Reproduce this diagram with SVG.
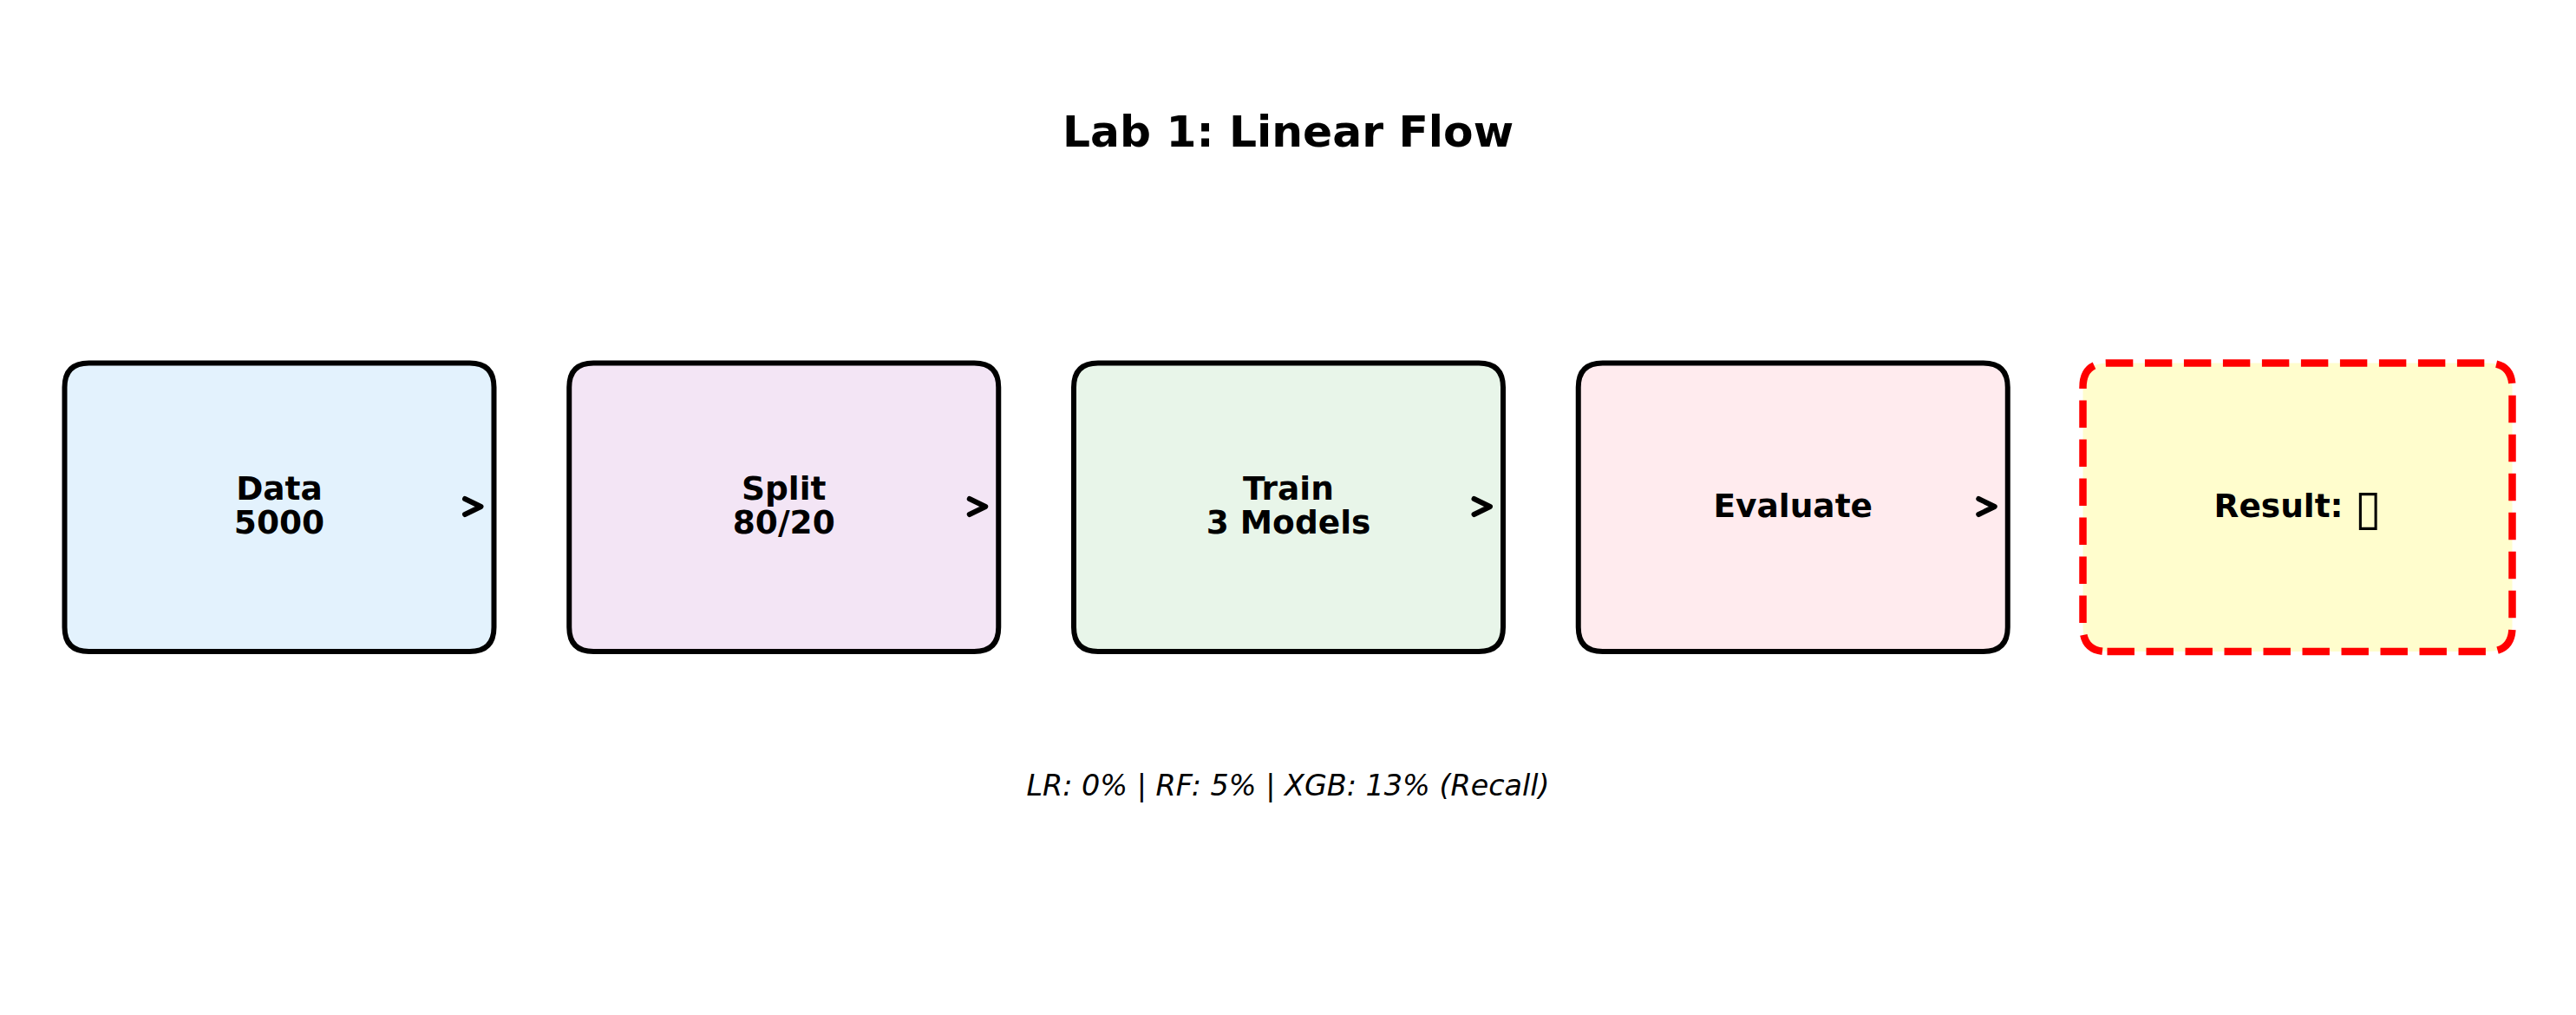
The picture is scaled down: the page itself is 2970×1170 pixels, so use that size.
<svg xmlns="http://www.w3.org/2000/svg" width="2970" height="1170" viewBox="0 0 2970 1170">
<style>
.box{stroke:#000;stroke-width:6;stroke-linejoin:round}
.res{fill:#FFFDCD;stroke:#FF0000;stroke-width:8.5;stroke-dasharray:31.4 13.6;stroke-linejoin:round}
.lbl{font-family:"DejaVu Sans",sans-serif;font-weight:bold;font-size:37.5px;fill:#000;text-anchor:middle}
.title{font-family:"DejaVu Sans",sans-serif;font-weight:bold;font-size:50.3px;fill:#000;text-anchor:middle}
.note{font-family:"DejaVu Sans",sans-serif;font-style:italic;font-size:33.4px;fill:#000;text-anchor:middle}
.chev{fill:none;stroke:#000;stroke-width:6;stroke-linecap:round;stroke-linejoin:round}
.tofu{font-weight:normal;font-size:56px}
</style>
<rect width="2970" height="1170" fill="#fff"/>
<text class="title" x="1485" y="169">Lab 1: Linear Flow</text>
<g id="node-data">
<path class="box" fill="#E3F2FD" d="M102.5 751 L541.5 751 Q569.5 751 569.5 723 L569.5 446.5 Q569.5 418.5 541.5 418.5 L102.5 418.5 Q74.5 418.5 74.5 446.5 L74.5 723 Q74.5 751 102.5 751Z"/>
<text class="lbl" x="322" y="575.5">Data</text>
<text class="lbl" x="322" y="615">5000</text>
</g>
<g id="node-split">
<path class="box" fill="#F3E5F5" d="M684.25 751 L1123.25 751 Q1151.25 751 1151.25 723 L1151.25 446.5 Q1151.25 418.5 1123.25 418.5 L684.25 418.5 Q656.25 418.5 656.25 446.5 L656.25 723 Q656.25 751 684.25 751Z"/>
<text class="lbl" x="903.75" y="575.5">Split</text>
<text class="lbl" x="903.75" y="615">80/20</text>
</g>
<g id="node-train">
<path class="box" fill="#E8F5E9" d="M1266 751 L1705 751 Q1733 751 1733 723 L1733 446.5 Q1733 418.5 1705 418.5 L1266 418.5 Q1238 418.5 1238 446.5 L1238 723 Q1238 751 1266 751Z"/>
<text class="lbl" x="1485.5" y="575.5">Train</text>
<text class="lbl" x="1485.5" y="615">3 Models</text>
</g>
<g id="node-evaluate">
<path class="box" fill="#FFEBEE" d="M1847.75 751 L2286.75 751 Q2314.75 751 2314.75 723 L2314.75 446.5 Q2314.75 418.5 2286.75 418.5 L1847.75 418.5 Q1819.75 418.5 1819.75 446.5 L1819.75 723 Q1819.75 751 1847.75 751Z"/>
<text class="lbl" x="2067.25" y="596">Evaluate</text>
</g>
<g id="node-result">
<path class="res" d="M2429.5 751 L2868.5 751 Q2896.5 751 2896.5 723 L2896.5 446.5 Q2896.5 418.5 2868.5 418.5 L2429.5 418.5 Q2401.5 418.5 2401.5 446.5 L2401.5 723 Q2401.5 751 2429.5 751Z"/>
<text class="lbl" x="2649" y="596">Result: <tspan class="tofu" dy="8">▯</tspan></text>
</g>
<g id="connectors">
<path class="chev" d="M536 575 L554.5 584 L536 593"/>
<path class="chev" d="M1117.75 575 L1136.25 584 L1117.75 593"/>
<path class="chev" d="M1699.5 575 L1718 584 L1699.5 593"/>
<path class="chev" d="M2281.25 575 L2299.75 584 L2281.25 593"/>
</g>
<text class="note" x="1485" y="917">LR: 0% | RF: 5% | XGB: 13% (Recall)</text>
</svg>
